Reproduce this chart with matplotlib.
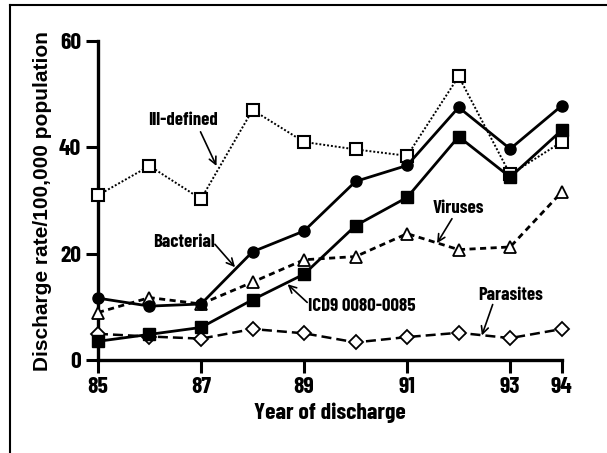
import matplotlib
matplotlib.use("Agg")
import matplotlib.pyplot as plt
from matplotlib.lines import Line2D

years = [85, 86, 87, 88, 89, 90, 91, 92, 93, 94]
ill_defined = [31.0, 36.5, 30.3, 47.0, 41.0, 39.6, 38.4, 53.3, 34.9, 41.0]
bacterial = [11.7, 10.2, 10.6, 20.4, 24.3, 33.6, 36.6, 47.5, 39.7, 47.8]
icd9 = [3.6, 4.9, 6.2, 11.4, 16.2, 25.3, 30.6, 42.0, 34.4, 43.2]
viruses = [9.0, 11.8, 10.6, 14.7, 18.9, 19.5, 23.8, 20.8, 21.3, 31.6]
parasites = [5.0, 4.5, 4.1, 5.9, 5.1, 3.4, 4.4, 5.2, 4.2, 5.9]

xticks = [85, 87, 89, 91, 93, 94]
yticks = [0, 20, 40, 60]

narrow = ['Barlow Condensed', 'DejaVu Sans']
wide = ['Liberation Sans', 'DejaVu Sans']

fig = plt.figure(figsize=(6.07, 4.53), dpi=100)
ax = fig.add_axes([0.1614, 0.2042, 0.9254 - 0.1614, 0.9102 - 0.2042])

ms = 8
ax.plot(years, ill_defined, linestyle=(0, (1, 1)), lw=1.4, color='black',
        marker='s', ms=ms, mfc='white', mec='black', mew=1.5, zorder=3)
ax.plot(years, bacterial, linestyle='-', lw=2.0, color='black',
        marker='o', ms=ms, mfc='black', mec='black', zorder=4)
ax.plot(years, icd9, linestyle='-', lw=2.0, color='black',
        marker='s', ms=ms, mfc='black', mec='black', zorder=4)
ax.plot(years, viruses, linestyle=(0, (2.2, 1.6)), lw=2.0, color='black',
        marker='^', ms=ms, mfc='white', mec='black', mew=1.3, zorder=3)
ax.plot(years, parasites, linestyle=(0, (4, 2)), lw=1.8, color='black',
        marker='D', ms=7, mfc='white', mec='black', mew=1.3, zorder=3)

ax.set_xlim(85, 94)
ax.set_ylim(0, 60)
ax.set_xticks(xticks)
ax.set_yticks(yticks)
ax.set_xticklabels([str(v) for v in xticks], family=narrow, fontweight='bold', fontsize=17)
ax.set_yticklabels([str(v) for v in yticks], family=narrow, fontweight='bold', fontsize=17)
ax.tick_params(direction='out', length=9, width=2.2, pad=3)
for s in ['top', 'right']:
    ax.spines[s].set_visible(False)
for s in ['left', 'bottom']:
    ax.spines[s].set_linewidth(2.4)
ax.margins(0)
for art in ax.lines:
    art.set_clip_on(False)

ax.set_xlabel('Year of discharge', family=narrow, fontweight='bold', fontsize=17, labelpad=4)
ax.set_ylabel('Discharge rate/100,000 population', family=wide, fontweight='bold', fontsize=15, labelpad=5)

ann_kw = dict(family=narrow, fontweight='bold', fontsize=13.5, ha='center', va='center')
arrow = dict(arrowstyle='->', lw=1.2, color='black', shrinkA=0, shrinkB=0, mutation_scale=13)

ax.annotate('', xy=(87.30, 36.5), xytext=(86.99, 42.9), arrowprops=arrow)
ax.text(86.65, 45.1, 'Ill-defined', **ann_kw)
ax.annotate('', xy=(87.66, 17.5), xytext=(87.27, 21.8), arrowprops=arrow)
ax.text(86.66, 22.2, 'Bacterial', **ann_kw)
ax.annotate('', xy=(88.68, 14.3), xytext=(89.06, 10.9), arrowprops=arrow)
ax.text(90.12, 10.2, 'ICD9 0080-0085', **ann_kw)
ax.annotate('', xy=(91.58, 22.0), xytext=(91.87, 26.6), arrowprops=arrow)
ax.text(92.0, 28.5, 'Viruses', **ann_kw)
ax.annotate('', xy=(92.45, 4.7), xytext=(92.66, 10.5), arrowprops=arrow)
ax.text(93.0, 12.2, 'Parasites', **ann_kw)

# figure frame (top and left edges)
fig.add_artist(Line2D([10 / 607, 10 / 607], [0, 1 - 5 / 453], transform=fig.transFigure, color='black', lw=1.5))
fig.add_artist(Line2D([10 / 607, 1], [1 - 5 / 453, 1 - 5 / 453], transform=fig.transFigure, color='black', lw=1.5))

fig.savefig('out.png', dpi=100)
